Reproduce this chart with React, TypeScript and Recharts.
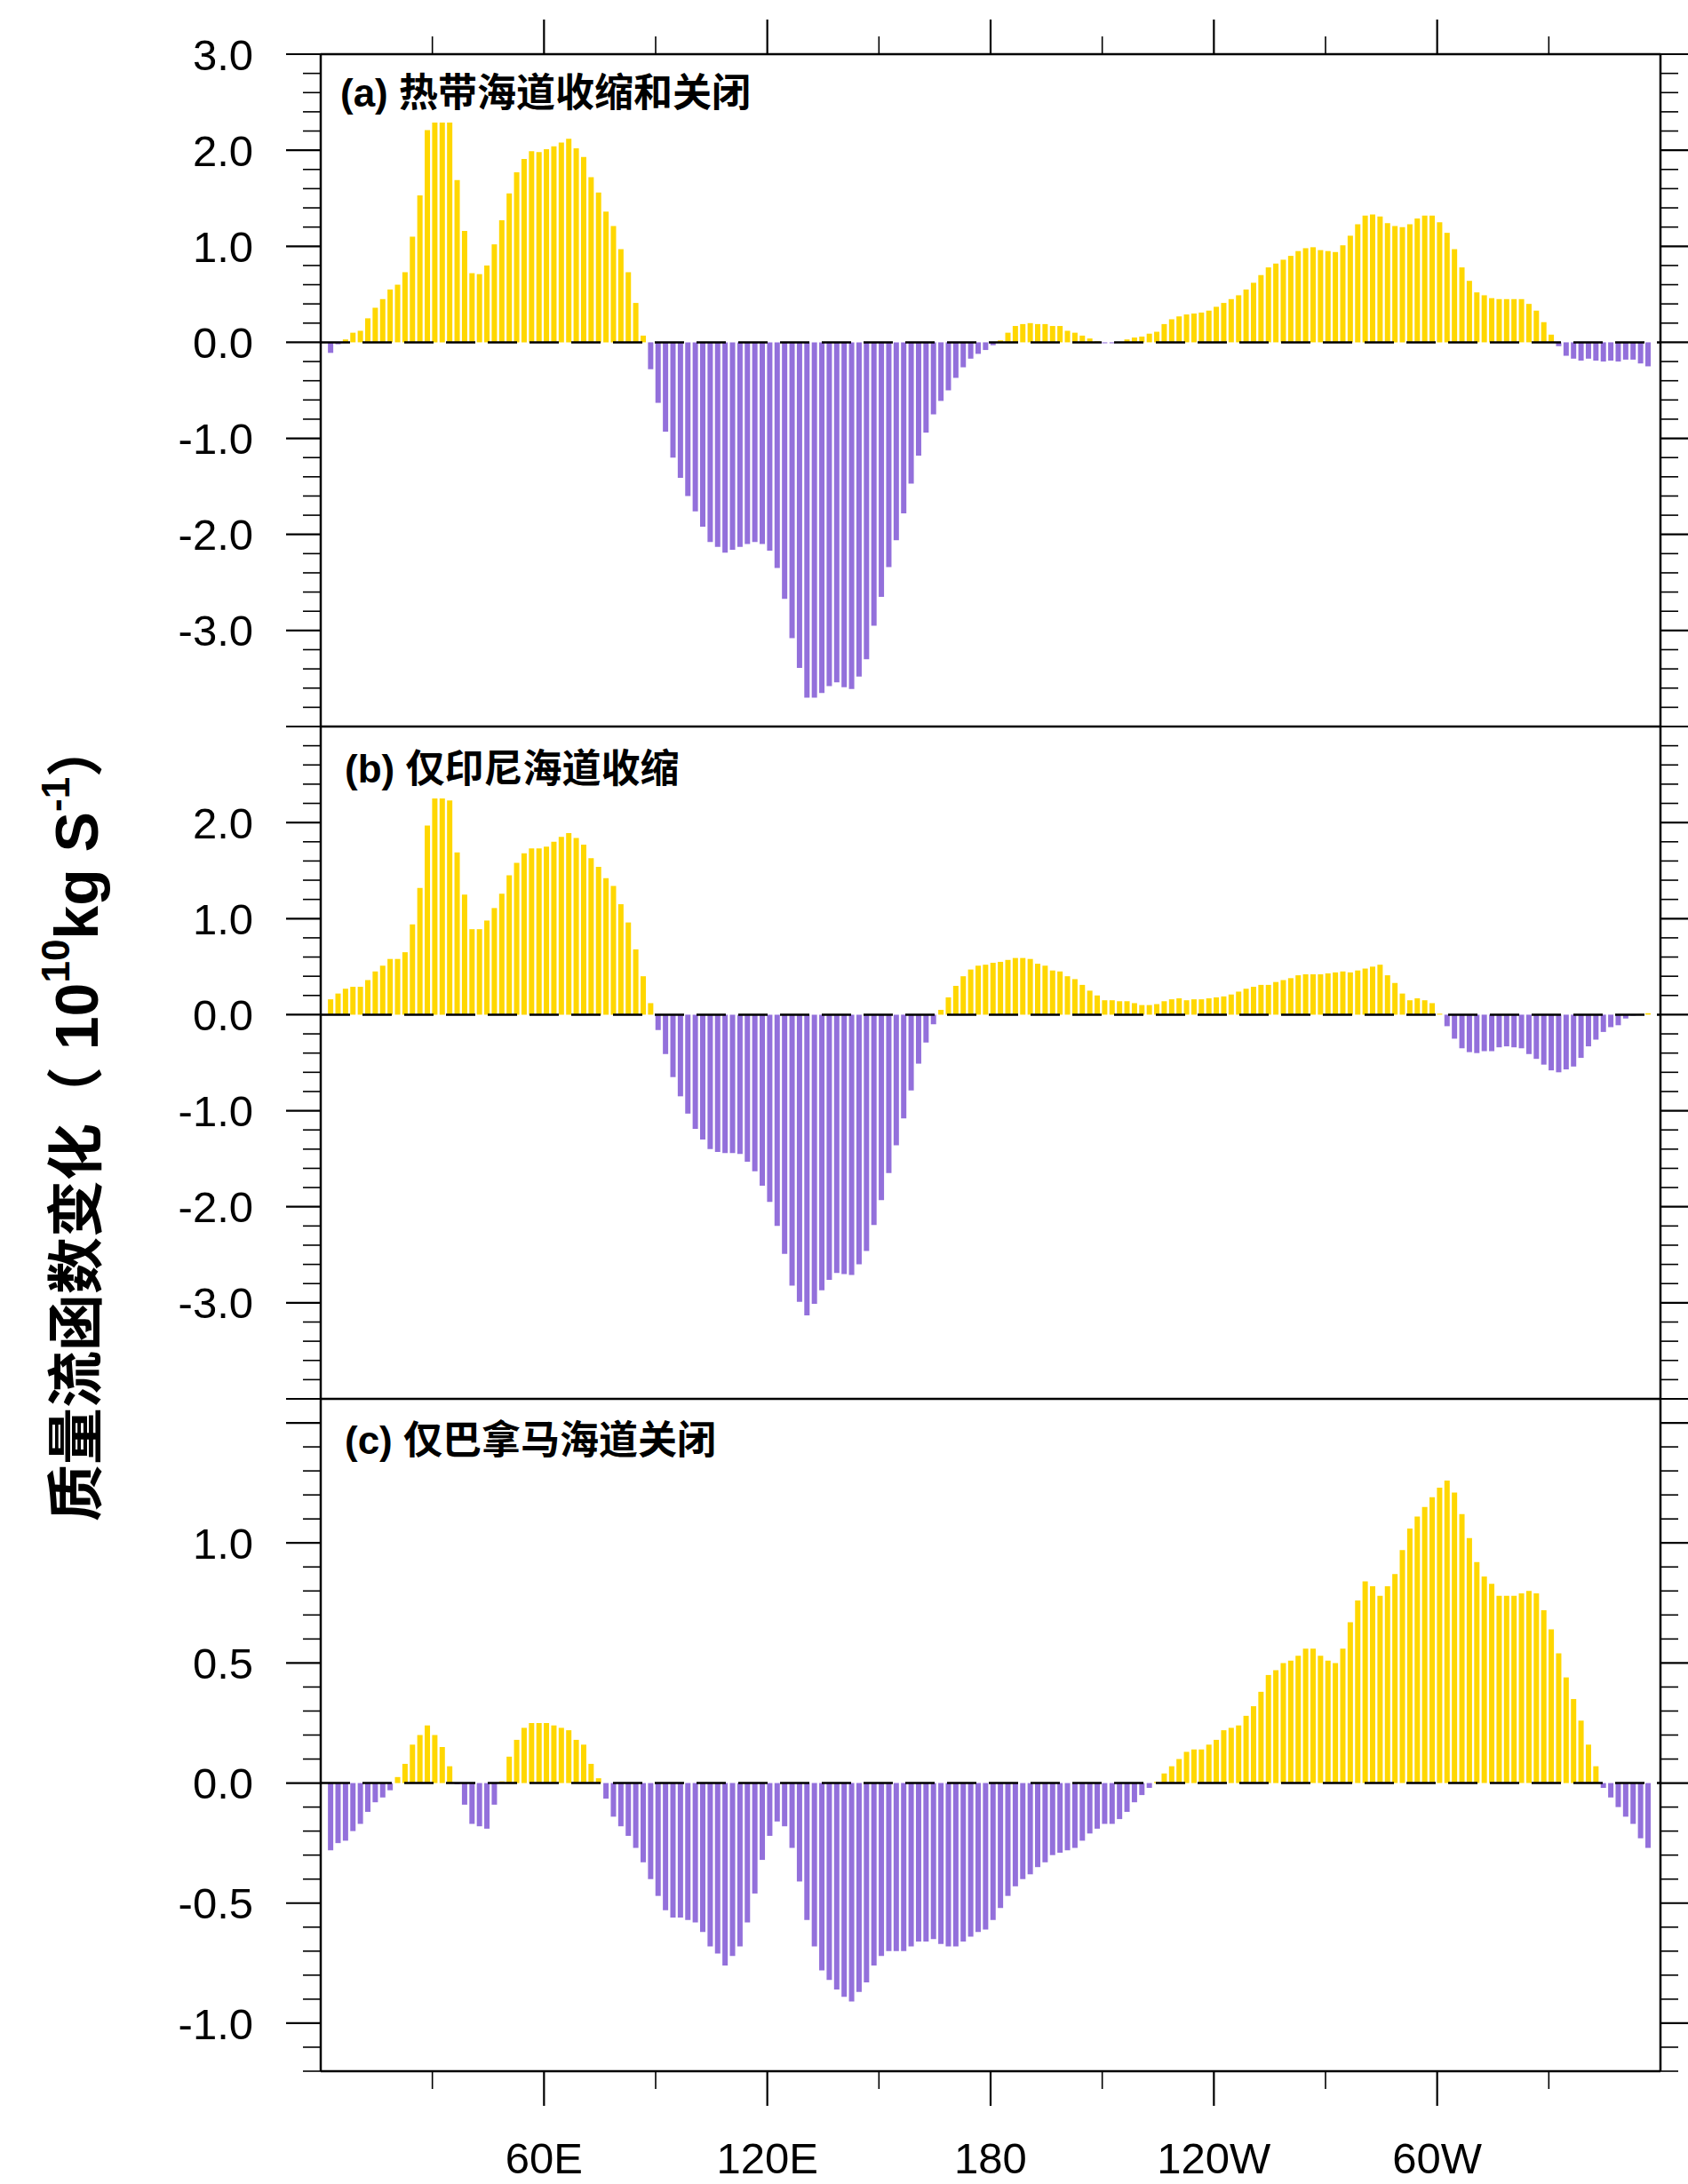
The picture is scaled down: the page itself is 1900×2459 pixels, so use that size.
import React from 'react'
import { BarChart, Bar, XAxis, YAxis, Cell, ReferenceLine } from 'recharts'

const YELLOW = '#FFD700'
const PURPLE = '#9370DB'
const FONT = "'Liberation Sans', 'Noto Sans CJK SC', sans-serif"

// bar centres, 2 degree grid
const lons = Array.from({ length: 178 }, (_, i) => Math.round((2.7 + 2 * i) * 10) / 10)

// (a) tropical seaways narrowed and closed
const panelA = [
  -0.11, -0.02, 0.03, 0.1, 0.12, 0.25, 0.36, 0.45, 0.55, 0.6,
  0.73, 1.1, 1.53, 2.21, 2.29, 2.29, 2.29, 1.69, 1.16, 0.72,
  0.71, 0.8, 1.02, 1.27, 1.55, 1.77, 1.91, 1.99, 1.98, 2.01,
  2.04, 2.08, 2.12, 2.02, 1.93, 1.72, 1.56, 1.36, 1.21, 0.97,
  0.73, 0.41, 0.07, -0.28, -0.63, -0.93, -1.2, -1.41, -1.6, -1.76,
  -1.92, -2.08, -2.13, -2.19, -2.16, -2.13, -2.1, -2.08, -2.1, -2.17,
  -2.35, -2.67, -3.08, -3.39, -3.7, -3.7, -3.65, -3.58, -3.54, -3.59,
  -3.61, -3.48, -3.3, -2.95, -2.65, -2.34, -2.06, -1.78, -1.47, -1.18,
  -0.94, -0.75, -0.61, -0.5, -0.37, -0.26, -0.17, -0.12, -0.08, -0.03,
  0.02, 0.1, 0.17, 0.19, 0.2, 0.19, 0.19, 0.17, 0.17, 0.12,
  0.1, 0.07, 0.04, 0.01, -0.01, -0.01, 0.0, 0.03, 0.05, 0.06,
  0.09, 0.11, 0.19, 0.24, 0.27, 0.29, 0.3, 0.31, 0.33, 0.37,
  0.41, 0.45, 0.49, 0.55, 0.62, 0.7, 0.78, 0.82, 0.86, 0.9,
  0.95, 0.98, 0.99, 0.96, 0.95, 0.94, 1.01, 1.11, 1.23, 1.32,
  1.33, 1.31, 1.24, 1.21, 1.2, 1.23, 1.29, 1.32, 1.32, 1.25,
  1.14, 0.97, 0.78, 0.64, 0.52, 0.49, 0.46, 0.45, 0.45, 0.45,
  0.45, 0.4, 0.33, 0.21, 0.08, -0.04, -0.14, -0.17, -0.19, -0.17,
  -0.19, -0.2, -0.19, -0.2, -0.18, -0.18, -0.22, -0.25,
]

// (b) Indonesian seaway narrowed only
const panelB = [
  0.16, 0.22, 0.27, 0.29, 0.29, 0.36, 0.45, 0.51, 0.58, 0.58,
  0.65, 0.94, 1.32, 1.97, 2.25, 2.25, 2.23, 1.69, 1.25, 0.89,
  0.89, 0.98, 1.11, 1.26, 1.45, 1.58, 1.68, 1.73, 1.73, 1.75,
  1.8, 1.85, 1.89, 1.84, 1.77, 1.63, 1.54, 1.42, 1.34, 1.15,
  0.96, 0.68, 0.4, 0.12, -0.16, -0.41, -0.65, -0.85, -1.03, -1.19,
  -1.3, -1.4, -1.43, -1.44, -1.44, -1.45, -1.53, -1.63, -1.78, -1.95,
  -2.2, -2.49, -2.82, -2.99, -3.13, -3.01, -2.87, -2.76, -2.69, -2.7,
  -2.71, -2.6, -2.46, -2.19, -1.93, -1.65, -1.36, -1.08, -0.79, -0.51,
  -0.29, -0.1, 0.05, 0.18, 0.3, 0.4, 0.47, 0.51, 0.52, 0.54,
  0.55, 0.57, 0.59, 0.59, 0.58, 0.53, 0.51, 0.46, 0.45, 0.4,
  0.37, 0.31, 0.25, 0.2, 0.15, 0.15, 0.14, 0.14, 0.12, 0.1,
  0.1, 0.11, 0.14, 0.16, 0.17, 0.15, 0.16, 0.16, 0.17, 0.18,
  0.19, 0.21, 0.24, 0.27, 0.29, 0.31, 0.31, 0.34, 0.36, 0.38,
  0.41, 0.42, 0.42, 0.42, 0.43, 0.44, 0.45, 0.44, 0.46, 0.48,
  0.5, 0.52, 0.41, 0.33, 0.22, 0.15, 0.17, 0.15, 0.12, 0.01,
  -0.12, -0.25, -0.35, -0.39, -0.4, -0.38, -0.38, -0.34, -0.33, -0.34,
  -0.35, -0.41, -0.46, -0.52, -0.58, -0.6, -0.57, -0.54, -0.45, -0.33,
  -0.26, -0.18, -0.13, -0.11, -0.04, -0.01, 0.005, 0.015,
]

// (c) Panama seaway closed only
const panelC = [
  -0.28, -0.25, -0.24, -0.2, -0.17, -0.12, -0.08, -0.06, -0.03, 0.025,
  0.08, 0.16, 0.2, 0.24, 0.2, 0.15, 0.07, -0.005, -0.09, -0.17,
  -0.18, -0.19, -0.09, 0.007, 0.11, 0.18, 0.23, 0.25, 0.25, 0.25,
  0.24, 0.23, 0.22, 0.18, 0.16, 0.08, 0.02, -0.065, -0.14, -0.18,
  -0.22, -0.27, -0.33, -0.4, -0.47, -0.53, -0.56, -0.56, -0.57, -0.58,
  -0.62, -0.68, -0.71, -0.76, -0.72, -0.68, -0.58, -0.46, -0.32, -0.22,
  -0.16, -0.18, -0.27, -0.41, -0.57, -0.68, -0.78, -0.82, -0.86, -0.89,
  -0.91, -0.87, -0.83, -0.76, -0.72, -0.7, -0.7, -0.7, -0.68, -0.66,
  -0.66, -0.65, -0.67, -0.68, -0.68, -0.66, -0.64, -0.62, -0.61, -0.57,
  -0.52, -0.47, -0.43, -0.4, -0.38, -0.35, -0.33, -0.3, -0.29, -0.28,
  -0.27, -0.24, -0.21, -0.19, -0.17, -0.17, -0.15, -0.12, -0.08, -0.05,
  -0.02, 0.005, 0.04, 0.07, 0.1, 0.13, 0.14, 0.14, 0.16, 0.18,
  0.22, 0.23, 0.24, 0.28, 0.32, 0.38, 0.45, 0.47, 0.5, 0.51,
  0.53, 0.56, 0.56, 0.53, 0.51, 0.5, 0.56, 0.67, 0.76, 0.84,
  0.82, 0.78, 0.82, 0.87, 0.97, 1.06, 1.11, 1.15, 1.19, 1.23,
  1.26, 1.21, 1.12, 1.02, 0.92, 0.86, 0.83, 0.78, 0.78, 0.78,
  0.79, 0.8, 0.79, 0.72, 0.64, 0.54, 0.44, 0.35, 0.26, 0.16,
  0.07, -0.02, -0.06, -0.1, -0.14, -0.17, -0.23, -0.27,
]

const lonTicks = [30, 60, 90, 120, 150, 180, 210, 240, 270, 300, 330]
const lonLabels: Record<number, string> = { 60: '60E', 120: '120E', 180: '180', 240: '120W', 300: '60W' }

const yLabelsA = [3, 2, 1, 0, -1, -2, -3]
const yLabelsB = [2, 1, 0, -1, -2, -3]
const yLabelsC = [1, 0.5, 0, -0.5, -1]

const steps = (lo: number, hi: number, step: number) => {
  const out: number[] = []
  for (let k = 0; lo + k * step <= hi + 1e-9; k++) out.push(Math.round((lo + k * step) * 100) / 100)
  return out
}
const has = (arr: number[], v: number) => arr.some((a) => Math.abs(a - v) < 1e-6)
const isMult = (v: number, m: number) => Math.abs(v / m - Math.round(v / m)) < 1e-6

const PLOT_L = 361
const LBL_X = 285
const MAJOR = 39
const MINOR = 20
const axisLine = { stroke: '#000', strokeWidth: 2.5 }

function Panel(props: any) {
  const { values, domain, minorStep, majorStep, labels, svgTop, svgHeight, plotTop, plotBottom, topAxis, bottomLabels } = props
  const data = lons.map((lon, i) => ({ lon, v: values[i] }))
  const yTicks = steps(domain[0], domain[1], minorStep)
  const topH = topAxis ? 40 : 0
  const bottomH = bottomLabels ? 120 : 2
  const margin = {
    top: plotTop - svgTop - topH,
    bottom: svgTop + svgHeight - plotBottom - bottomH,
    left: PLOT_L - 300,
    right: 0,
  }

  const leftTick = (p: any) => {
    const v = p.payload.value
    const major = isMult(v, majorStep)
    const len = major ? MAJOR : MINOR
    return (
      <g>
        <line x1={p.x - len} x2={p.x} y1={p.y} y2={p.y} stroke="#000" strokeWidth={major ? 2.2 : 1.6} />
        {has(labels, v) && (
          <text x={LBL_X} y={p.y} dy="0.36em" textAnchor="end" fontSize={49} fontFamily={FONT} fill="#000">
            {v.toFixed(1)}
          </text>
        )}
      </g>
    )
  }
  const rightTick = (p: any) => {
    const major = isMult(p.payload.value, majorStep)
    const len = major ? MAJOR : MINOR
    return <line x1={p.x} x2={p.x + len} y1={p.y} y2={p.y} stroke="#000" strokeWidth={major ? 2.2 : 1.6} />
  }
  const topTick = (p: any) => {
    const major = isMult(p.payload.value, 60)
    const len = major ? MAJOR : MINOR
    return <line x1={p.x} x2={p.x} y1={p.y - len} y2={p.y} stroke="#000" strokeWidth={major ? 2.2 : 1.6} />
  }
  const bottomTick = (p: any) => {
    const v = p.payload.value
    const major = isMult(v, 60)
    const len = major ? MAJOR : MINOR
    return (
      <g>
        <line x1={p.x} x2={p.x} y1={p.y} y2={p.y + len} stroke="#000" strokeWidth={major ? 2.2 : 1.6} />
        {lonLabels[v] && (
          <text x={p.x} y={p.y + 115} textAnchor="middle" fontSize={49} fontFamily={FONT} fill="#000">
            {lonLabels[v]}
          </text>
        )}
      </g>
    )
  }

  return (
    <div style={{ position: 'absolute', left: 0, top: svgTop }}>
      <BarChart width={1900} height={svgHeight} data={data} margin={margin}>
        {topAxis && (
          <XAxis
            xAxisId="top"
            orientation="top"
            type="number"
            dataKey="lon"
            domain={[0, 360]}
            allowDataOverflow
            ticks={lonTicks}
            interval={0}
            height={topH}
            tickSize={0}
            tickMargin={0}
            tickLine={false}
            axisLine={axisLine}
            tick={topTick}
          />
        )}
        <XAxis
          xAxisId="main"
          type="number"
          dataKey="lon"
          domain={[0, 360]}
          allowDataOverflow
          ticks={lonTicks}
          interval={0}
          height={bottomH}
          tickSize={0}
          tickMargin={0}
          tickLine={false}
          axisLine={axisLine}
          tick={bottomLabels ? bottomTick : false}
        />
        <YAxis
          yAxisId="left"
          type="number"
          domain={domain}
          allowDataOverflow
          ticks={yTicks}
          interval={0}
          width={300}
          tickSize={0}
          tickMargin={0}
          tickLine={false}
          axisLine={axisLine}
          tick={leftTick}
        />
        <YAxis
          yAxisId="right"
          orientation="right"
          type="number"
          domain={domain}
          allowDataOverflow
          ticks={yTicks}
          interval={0}
          width={31}
          tickSize={0}
          tickMargin={0}
          tickLine={false}
          axisLine={axisLine}
          tick={rightTick}
        />
        <Bar xAxisId="main" yAxisId="left" dataKey="v" barSize={6} isAnimationActive={false}>
          {data.map((d, i) => (
            <Cell key={i} fill={d.v >= 0 ? YELLOW : PURPLE} />
          ))}
        </Bar>
        <ReferenceLine xAxisId="main" yAxisId="left" y={0} stroke="#000" strokeWidth={2.5} strokeDasharray="33 14" />
      </BarChart>
    </div>
  )
}

export default function App() {
  const titleStyle = { fontSize: 44, fontWeight: 700, fontFamily: FONT, fill: '#000' }
  return (
    <div style={{ position: 'absolute', left: 0, top: 0, width: 1900, height: 2459, background: '#fff' }}>
      <Panel values={panelA} domain={[-4, 3]} minorStep={0.2} majorStep={1} labels={yLabelsA}
        svgTop={0} svgHeight={830} plotTop={61} plotBottom={818} topAxis />
      <Panel values={panelB} domain={[-4, 3]} minorStep={0.2} majorStep={1} labels={yLabelsB}
        svgTop={760} svgHeight={830} plotTop={818} plotBottom={1575} />
      <Panel values={panelC} domain={[-1.2, 1.6]} minorStep={0.1} majorStep={0.5} labels={yLabelsC}
        svgTop={1517} svgHeight={942} plotTop={1575} plotBottom={2332} bottomLabels />
      <svg width={1900} height={2459} style={{ position: 'absolute', left: 0, top: 0, pointerEvents: 'none' }}>
        <rect x={363} y={63} width={480} height={75} fill="#fff" />
        <text x={383} y={120} {...titleStyle}>(a) 热带海道收缩和关闭</text>
        <text x={388} y={881} {...titleStyle}>(b) 仅印尼海道收缩</text>
        <text x={388} y={1637} {...titleStyle}>(c) 仅巴拿马海道关闭</text>
        <text
          transform="translate(86,1262) rotate(-90)"
          textAnchor="middle"
          dominantBaseline="central"
          fontSize={64}
          fontWeight={700}
          fontFamily={FONT}
          fill="#000"
        >
          质量流函数变化（
          <tspan fontSize={68}> 10</tspan>
          <tspan fontSize={44} dy={-24}>10</tspan>
          <tspan fontSize={68} dy={24}>kg S</tspan>
          <tspan fontSize={44} dy={-24}>-1</tspan>
          <tspan dy={24}>）</tspan>
        </text>
      </svg>
    </div>
  )
}
